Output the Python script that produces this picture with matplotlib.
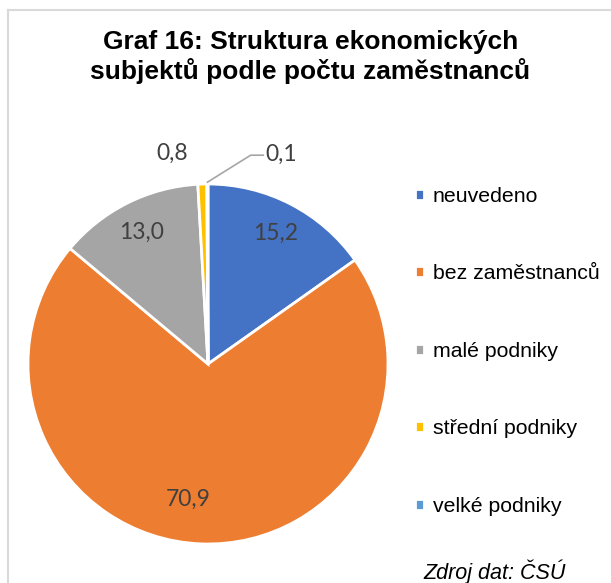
import numpy as np
import matplotlib.pyplot as plt
from matplotlib.lines import Line2D

# data
categories = ['neuvedeno', 'bez zaměstnanců', 'malé podniky', 'střední podniky', 'velké podniky']
values = [15.2, 70.9, 13.0, 0.8, 0.1]
colors = ['#4472C4', '#ED7D31', '#A5A5A5', '#FFC000', '#5B9BD5']
value_labels = ['15,2', '70,9', '13,0', '0,8', '0,1']

W, H = 611, 583
fig = plt.figure(figsize=(W / 100, H / 100), dpi=100)

# pie axes: centre (208, 364) px, radius 180 px
cx, cy, r = 208, 364, 180
half = 200
ax = fig.add_axes([(cx - half) / W, (H - cy - half) / H, 2 * half / W, 2 * half / H])
wedges, _ = ax.pie(values, colors=colors, startangle=90, counterclock=False,
                   wedgeprops=dict(edgecolor='white', linewidth=2))
lim = half / r
ax.set_xlim(-lim, lim)
ax.set_ylim(-lim, lim)
ax.set_aspect('equal')
ax.axis('off')

# value labels
lab_font = dict(family='Lato', fontsize=16.5, color='#404040')
total = sum(values)
cum = np.cumsum([0] + values)
mid = [90 - (cum[i] + values[i] / 2) / total * 360 for i in range(len(values))]
dist = [0.82, 0.75, 0.82, 1.17, None]
for i, lab in enumerate(value_labels[:4]):
    a = np.deg2rad(mid[i])
    dx = 0 if i != 1 else -0.08
    ax.text(dist[i] * np.cos(a) + dx - (0.16 if i == 3 else 0), dist[i] * np.sin(a),
            lab, ha='center', va='center', **lab_font)

# leader line for the smallest slice
a = np.deg2rad(mid[4])
x0, y0 = 1.0 * np.cos(a), 1.0 * np.sin(a)
ax.plot([x0, x0 + 0.24, x0 + 0.31], [y0 + 0.01, y0 + 0.16, y0 + 0.16],
        color='#A6A6A6', lw=1.2, clip_on=False)
ax.text(x0 + 0.32, y0 + 0.165, value_labels[4], ha='left', va='center', **lab_font)

# title
fig.text(0.508, 1 - 57 / H, 'Graf 16: Struktura ekonomických\nsubjektů podle počtu zaměstnanců',
         ha='center', va='center', fontsize=19, fontweight='bold',
         family='Liberation Sans', linespacing=1.2)

# legend
leg = fig.legend(wedges, categories, loc='upper left', bbox_to_anchor=(415 / W, 1 - 187 / H),
                 frameon=False, prop=dict(family='Liberation Sans', size=15.3),
                 handlelength=0.4, handleheight=0.4, handletextpad=0.45,
                 labelspacing=2.75, borderpad=0, borderaxespad=0)

fig.text(423 / W, 1 - 572 / H, 'Zdroj dat: ČSÚ', ha='left', va='center',
         fontsize=15.5, style='italic', family='Liberation Sans')

# chart-area border (left and top edges visible)
fig.add_artist(Line2D([8 / W, 8 / W], [0, 1 - 10 / H], color='#D9D9D9', lw=1.5,
                      transform=fig.transFigure))
fig.add_artist(Line2D([8 / W, 1], [1 - 10 / H, 1 - 10 / H], color='#D9D9D9', lw=1.5,
                      transform=fig.transFigure))

fig.savefig('out.png', dpi=100)
